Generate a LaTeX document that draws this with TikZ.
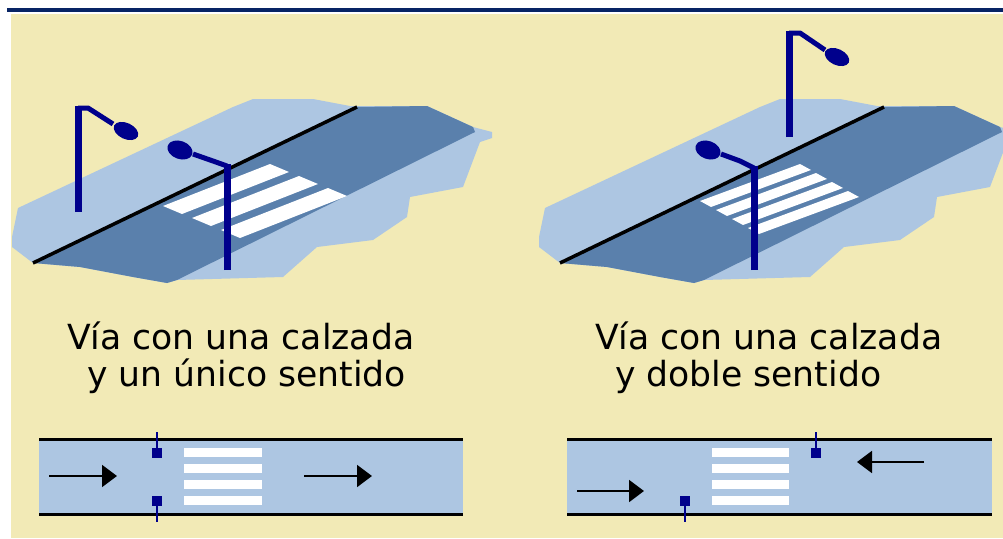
\documentclass[tikz,border=0pt]{standalone}
\usepackage{fontspec}
\setmainfont{DejaVu Sans}
\usetikzlibrary{arrows.meta}

\definecolor{sand}{RGB}{242,234,182}
\definecolor{sky}{RGB}{173,198,226}
\definecolor{asphalt}{RGB}{90,128,172}
\definecolor{lampblue}{RGB}{0,0,140}
\definecolor{barnavy}{RGB}{8,36,100}

\begin{document}
\begin{tikzpicture}[x=1pt, y=-1pt]
  \tikzstyle{caption}=[anchor=base west, inner sep=0pt, font=\fontsize{34.6}{37}\selectfont]
  \tikzstyle{pole}=[draw=lampblue, line width=7pt]
  \tikzstyle{arm}=[draw=lampblue, line width=5pt, line join=round]
  \tikzstyle{curb}=[draw=black, line width=3pt]
  \tikzstyle{flow}=[draw=black, line width=2pt, -{Triangle[length=15pt, width=22pt]}]
  \tikzstyle{post}=[draw=lampblue, line width=2.5pt]

  \useasboundingbox (0,0) rectangle (1003,538);
  \fill[white] (0,0) rectangle (1003,538);
  \fill[barnavy] (7,8) rectangle (1003,12);
  \fill[sand] (11,14) rectangle (1003,538);

  % perspective views
  \foreach \dx in {0,527} {
    \begin{scope}[shift={(\dx,0)}]
      \fill[sky] (12,237) -- (18,208) -- (233,107) -- (253,99) -- (313,99)
        -- (350,106) -- (427,106) -- (473,127) -- (492,132) -- (492,138)
        -- (480,142) -- (463,187) -- (410,197) -- (407,217) -- (373,240)
        -- (317,247) -- (283,277) -- (177,280) -- (167,283) -- (133,277)
        -- (80,267) -- (33,263) -- (12,247) -- cycle;
      \fill[asphalt] (33,263) -- (357,107) -- (427,106) -- (473,127)
        -- (475,132) -- (177,280) -- (167,283) -- (133,277) -- (80,267) -- cycle;
      \draw[line width=3.5pt] (33,263) -- (357,107);
    \end{scope}
  }

  % crossings
  \foreach \a/\b in {163/206, 192/218, 221/230}
    \fill[white] (\a,\b) -- ++(107,-42) -- ++(19,8) -- ++(-107,42) -- cycle;
  \foreach \a/\b in {700/201, 716/210, 732/219, 748/228}
    \fill[white] (\a,\b) -- ++(100,-37) -- ++(11,6) -- ++(-100,37) -- cycle;

  % street lamps
  \path[pole] (78,212) -- (78,106);
  \path[arm] (78,108) -- (88,108) -- (113,124);
  \fill[lampblue, rotate around={-25:(126,131)}] (126,131) ellipse [x radius=13pt, y radius=8pt];

  \path[pole] (227,270) -- (227,164);
  \path[arm] (227,166) -- (213,161) -- (193,154);
  \fill[lampblue, rotate around={-20:(180,150)}] (180,150) ellipse [x radius=13pt, y radius=9pt];

  \path[pole] (789,137) -- (789,31);
  \path[arm] (789,33) -- (800,33) -- (825,50);
  \fill[lampblue, rotate around={-25:(837,57)}] (837,57) ellipse [x radius=13pt, y radius=8pt];

  \path[pole] (754,270) -- (754,166);
  \path[arm] (754,168) -- (740,161) -- (721,154);
  \fill[lampblue, rotate around={-20:(708,150)}] (708,150) ellipse [x radius=13pt, y radius=9pt];

  % captions
  \node[caption] (capL1) at (67,349)  {Vía con una calzada};
  \node[caption] (capL2) at (87,386)  {y un único sentido};
  \node[caption] (capR1) at (595,349) {Vía con una calzada};
  \node[caption] (capR2) at (615,386) {y doble sentido};

  % plan views
  \fill[sky] (39,439) rectangle (463,514);
  \path[curb] (39,439) -- (463,439);
  \path[curb] (39,514) -- (463,514);
  \fill[sky] (567,439) rectangle (992,514);
  \path[curb] (567,439) -- (992,439);
  \path[curb] (567,514) -- (992,514);

  \foreach \y in {448,464,480,496} {
    \fill[white] (184,\y) rectangle (262,\y+9);
    \fill[white] (712,\y) rectangle (789,\y+9);
  }

  \path[post] (157,432) -- (157,448);
  \fill[lampblue] (152,448) rectangle (162,458);
  \fill[lampblue] (152,496) rectangle (162,506);
  \path[post] (157,506) -- (157,522);

  \path[post] (816,432) -- (816,448);
  \fill[lampblue] (811,448) rectangle (821,458);
  \fill[lampblue] (680,496) rectangle (690,506);
  \path[post] (685,506) -- (685,522);

  \coordinate (a1) at (49,476);  \coordinate (b1) at (117,476);
  \coordinate (a2) at (304,476); \coordinate (b2) at (372,476);
  \coordinate (a3) at (577,491); \coordinate (b3) at (644,491);
  \coordinate (a4) at (924,462); \coordinate (b4) at (857,462);
  \path[flow] (a1) -- (b1);
  \path[flow] (a2) -- (b2);
  \path[flow] (a3) -- (b3);
  \path[flow] (a4) -- (b4);
\end{tikzpicture}
\end{document}
